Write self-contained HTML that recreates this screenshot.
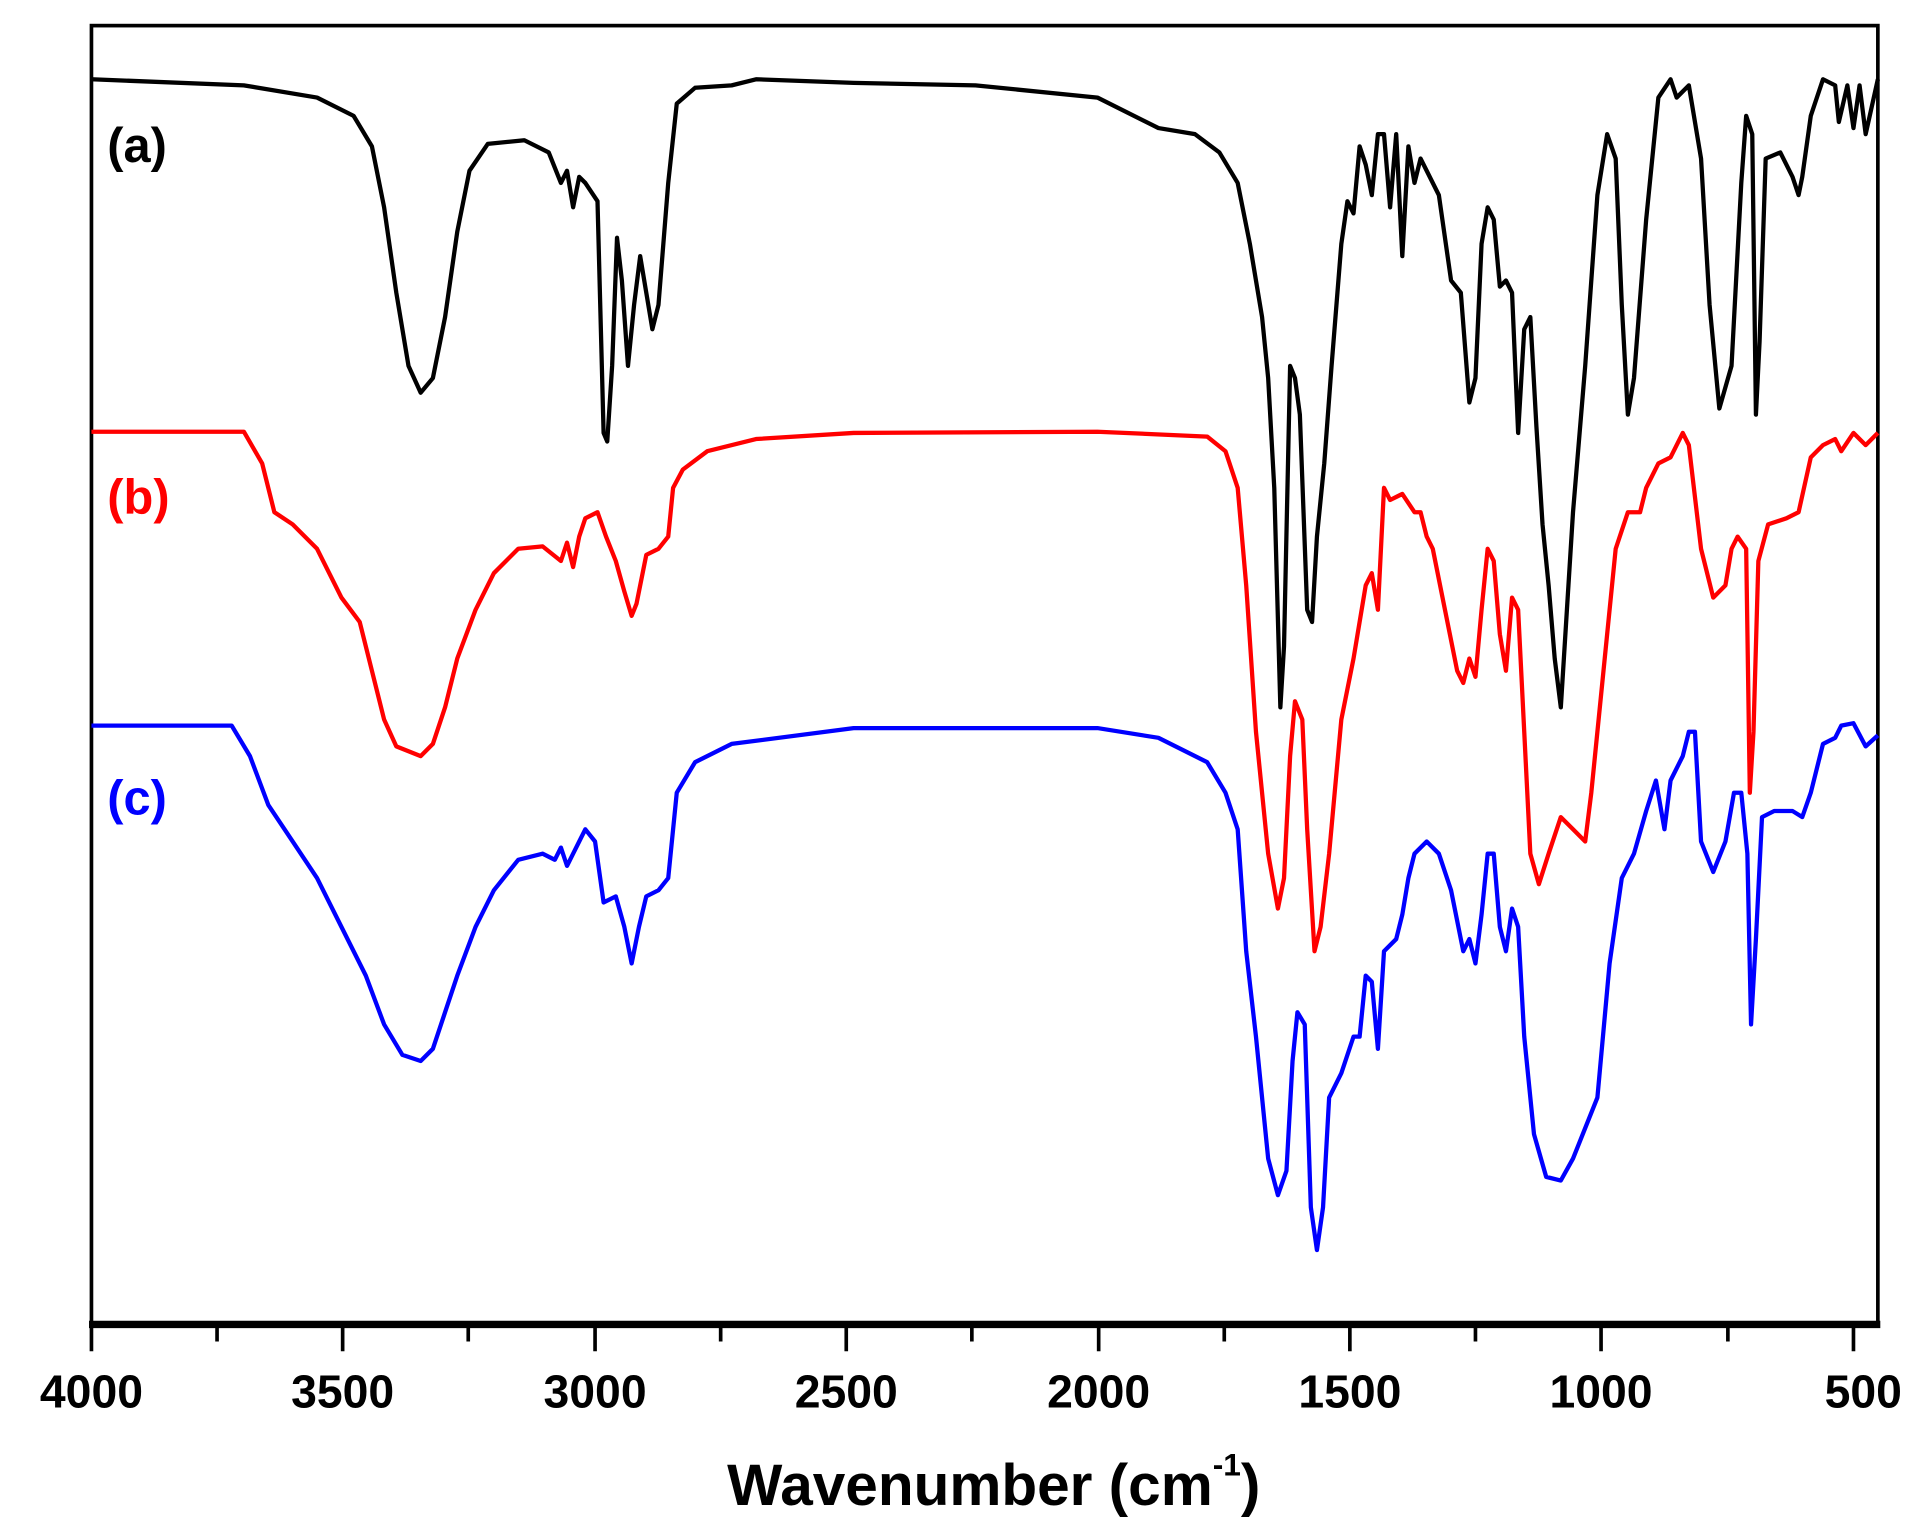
<!DOCTYPE html>
<html><head><meta charset="utf-8"><style>html,body{margin:0;padding:0;background:#fff}svg{display:block}</style></head>
<body>
<svg width="1912" height="1522" viewBox="0 0 1568 1248" preserveAspectRatio="none" xmlns="http://www.w3.org/2000/svg" font-family="Liberation Sans, Arial, sans-serif" font-weight="bold">
<rect width="1568" height="1248" fill="#fff"/>
<rect x="75" y="21" width="1465" height="1064" fill="none" stroke="#000" stroke-width="3"/>
<line x1="73" y1="1086" x2="1542" y2="1086" stroke="#000" stroke-width="6"/>
<g stroke="#000" stroke-width="3">
<line x1="75" y1="1086" x2="75" y2="1108"/><line x1="178" y1="1086" x2="178" y2="1100"/>
<line x1="281" y1="1086" x2="281" y2="1108"/><line x1="384" y1="1086" x2="384" y2="1100"/>
<line x1="488" y1="1086" x2="488" y2="1108"/><line x1="591" y1="1086" x2="591" y2="1100"/>
<line x1="694" y1="1086" x2="694" y2="1108"/><line x1="797" y1="1086" x2="797" y2="1100"/>
<line x1="901" y1="1086" x2="901" y2="1108"/><line x1="1004" y1="1086" x2="1004" y2="1100"/>
<line x1="1107" y1="1086" x2="1107" y2="1108"/><line x1="1210" y1="1086" x2="1210" y2="1100"/>
<line x1="1313" y1="1086" x2="1313" y2="1108"/><line x1="1417" y1="1086" x2="1417" y2="1100"/>
<line x1="1520" y1="1086" x2="1520" y2="1108"/>
</g>
<g font-size="38" text-anchor="middle" fill="#000">
<text x="75" y="1154">4000</text><text x="281" y="1154">3500</text><text x="488" y="1154">3000</text>
<text x="694" y="1154">2500</text><text x="901" y="1154">2000</text><text x="1107" y="1154">1500</text>
<text x="1313" y="1154">1000</text><text x="1528" y="1154">500</text>
</g>
<text x="815" y="1234" font-size="48" text-anchor="middle">Wavenumber (cm<tspan font-size="26" dy="-24">-1</tspan><tspan dy="24">)</tspan></text>
<text x="88" y="133" font-size="40" fill="#000">(a)</text>
<text x="88" y="421" font-size="40" fill="#f00">(b)</text>
<text x="88" y="668" font-size="40" fill="#00f">(c)</text>
<g fill="none" stroke-width="3.5" stroke-linejoin="round">
<polyline stroke="#000" points="75,65 200,70 260,80 290,95 305,120 315,170 325,240 335,300 345,322 355,310 365,260 375,190 385,140 400,118 430,115 450,125 460,150 465,140 470,170 475,145 480,150 490,165 495,355 498,362 502,300 506,195 510,230 515,300 520,250 525,210 530,240 535,270 540,250 548,150 555,85 570,72 600,70 620,65 700,68 800,70 900,80 950,105 980,110 1000,125 1015,150 1025,200 1035,260 1040,310 1045,400 1050,580 1053,530 1058,300 1062,310 1066,340 1072,500 1076,510 1080,440 1086,380 1092,300 1100,200 1105,165 1110,175 1115,120 1120,135 1125,160 1130,110 1135,110 1140,170 1145,110 1150,210 1155,120 1160,150 1165,130 1170,140 1180,160 1190,230 1198,240 1205,330 1210,310 1215,200 1220,170 1225,180 1230,235 1235,230 1240,240 1245,355 1250,270 1255,260 1260,350 1265,430 1270,480 1275,540 1280,580 1285,500 1290,420 1300,300 1310,160 1318,110 1325,130 1330,250 1335,340 1340,310 1350,180 1360,80 1370,65 1375,80 1385,70 1395,130 1402,250 1410,335 1420,300 1428,150 1432,95 1437,110 1440,340 1443,280 1448,130 1460,125 1470,145 1475,160 1478,145 1485,95 1495,65 1505,70 1508,100 1515,70 1520,105 1525,70 1530,110 1540,65"/>
<polyline stroke="#f00" points="75,354 200,354 215,380 225,420 240,430 260,450 280,490 295,510 305,550 315,590 325,612 345,620 355,610 365,580 375,540 390,500 405,470 425,450 445,448 460,460 465,445 470,465 475,440 480,425 490,420 497,440 505,460 512,485 518,505 522,495 530,455 540,450 548,440 552,400 560,385 580,370 620,360 700,355 900,354 990,358 1005,370 1015,400 1022,480 1030,600 1040,700 1048,745 1053,720 1058,620 1062,575 1068,590 1072,680 1078,780 1083,760 1090,700 1100,590 1110,540 1120,480 1125,470 1130,500 1135,400 1140,410 1150,405 1160,420 1165,420 1170,440 1175,450 1185,500 1195,550 1200,560 1205,540 1210,555 1215,500 1220,450 1225,460 1230,520 1235,550 1240,490 1245,500 1250,600 1255,700 1262,725 1270,700 1280,670 1290,680 1300,690 1305,650 1315,550 1325,450 1335,420 1345,420 1350,400 1360,380 1370,375 1380,355 1385,365 1395,450 1405,490 1415,480 1420,450 1425,440 1432,450 1435,650 1438,600 1442,460 1450,430 1465,425 1475,420 1485,375 1495,365 1505,360 1510,370 1520,355 1530,365 1540,355"/>
<polyline stroke="#00f" points="75,595 190,595 205,620 220,660 240,690 260,720 280,760 300,800 315,840 330,865 345,870 355,860 365,830 375,800 390,760 405,730 425,705 445,700 455,705 460,695 465,710 470,700 475,690 480,680 488,690 495,740 505,735 512,760 518,790 524,760 530,735 540,730 548,720 555,650 570,625 600,610 700,597 900,597 950,605 990,625 1005,650 1015,680 1022,780 1030,850 1040,950 1048,980 1055,960 1060,870 1064,830 1070,840 1075,990 1080,1025 1085,990 1090,900 1100,880 1110,850 1115,850 1120,800 1125,805 1130,860 1135,780 1145,770 1150,750 1155,720 1160,700 1170,690 1180,700 1190,730 1200,780 1205,770 1210,790 1215,750 1220,700 1225,700 1230,760 1235,780 1240,745 1245,760 1250,850 1258,930 1268,965 1280,968 1290,950 1300,925 1310,900 1320,790 1330,720 1340,700 1350,665 1358,640 1365,680 1370,640 1380,620 1385,600 1390,600 1395,690 1405,715 1415,690 1422,650 1428,650 1433,700 1436,840 1440,770 1445,670 1455,665 1470,665 1478,670 1485,650 1495,610 1505,605 1510,595 1520,593 1530,612 1540,603"/>
</g>
</svg>
</body></html>
